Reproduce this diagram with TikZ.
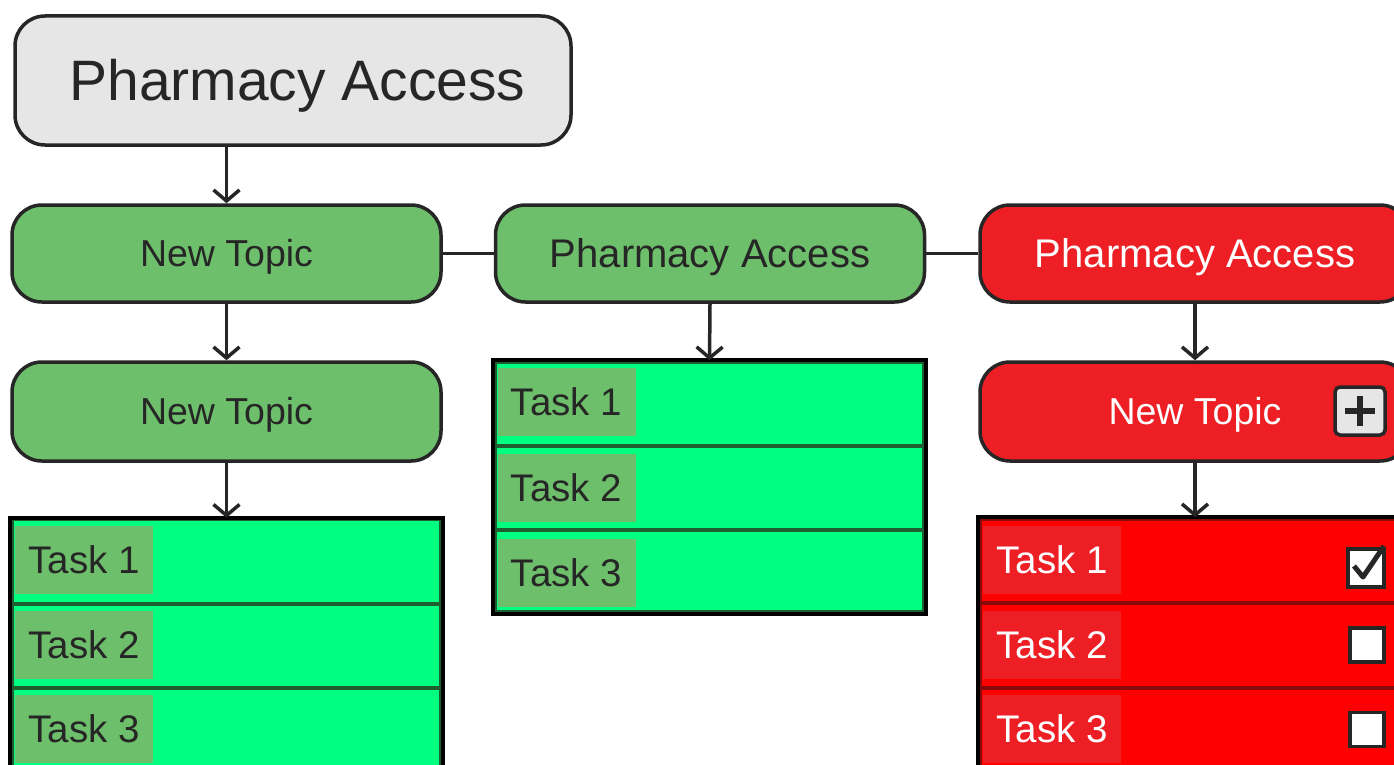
\documentclass[tikz,border=0pt]{standalone}
\usepackage{fontspec}
\setmainfont{Liberation Sans}
\usetikzlibrary{arrows.meta,calc}
\definecolor{gbox}{HTML}{6DBF6B}
\definecolor{gtab}{HTML}{00FF80}
\definecolor{gline}{HTML}{1E5E30}
\definecolor{rbox}{HTML}{ED1F24}
\definecolor{rtab}{HTML}{FF0000}
\definecolor{rline}{HTML}{8A0A0A}
\definecolor{ink}{HTML}{262626}
\definecolor{lgray}{HTML}{E6E6E6}
\tikzset{
 topic/.style={draw=ink, line width=3.5pt, rounded corners=30pt, minimum width=429pt, minimum height=97pt, inner sep=0pt, font=\fontsize{37.5}{40}\selectfont, text height=26.9pt, text depth=0pt},
 greentopic/.style={topic, fill=gbox, text=ink},
 redtopic/.style={topic, fill=rbox, text=white},
 bigfont/.style={font=\fontsize{40}{44}\selectfont, text height=28.6pt},
 taskrow/.style={rectangle, minimum width=429pt, minimum height=84pt, inner sep=0pt, line width=3.5pt},
 greenrow/.style={taskrow, fill=gtab, draw=gline},
 redrow/.style={taskrow, minimum width=430pt, fill=rtab, draw=rline},
 lab/.style={rectangle, minimum width=138pt, minimum height=68pt, inner sep=0pt, font=\fontsize{38.5}{40}\selectfont, text height=27.6pt, text depth=0pt},
 glab/.style={lab, fill=gbox, text=ink},
 rlab/.style={lab, fill=rbox, text=white},
 conn/.style={draw=ink, line width=3.5pt},
 arr/.style={conn, -{Straight Barb[length=11pt,width=26pt]}},
 frame/.style={draw=black, line width=4pt},
 cbox/.style={rectangle, fill=white, draw=ink, line width=3.5pt, minimum width=34pt, minimum height=34pt, inner sep=0pt},
}
\begin{document}
\begin{tikzpicture}[x=1pt,y=-1pt]
\clip (0,0) rectangle (1394,765);
\fill[white] (0,0) rectangle (1394,765);
% top
\node[draw=ink, line width=3.5pt, rounded corners=30pt, fill=lgray, text=ink, minimum width=556pt, minimum height=129pt, inner sep=0pt, font=\fontsize{57}{60}\selectfont, text height=40.8pt, text depth=0pt] (top) at (293,80.5) {\hspace*{9pt}Pharmacy Access};
% row 2
\node[greentopic] (lt1) at (226.5,253.5) {New Topic};
\node[greentopic, bigfont] (mt1) at (710,253.5) {Pharmacy Access};
\node[redtopic, bigfont, minimum width=430pt] (rt1) at (1195,253.5) {Pharmacy Access};
% row 3
\node[greentopic, minimum height=99pt] (lt2) at (226.5,411.5) {New Topic};
\node[redtopic, minimum height=99pt, minimum width=430pt] (rt2) at (1195,411.5) {New Topic};
\node[rectangle, rounded corners=5pt, fill=lgray, draw=ink, line width=3.5pt, minimum width=50pt, minimum height=48pt] (plus) at (1360,411) {};
\draw[ink, line width=5.5pt] ($(plus.center)+(-15,0)$) -- ($(plus.center)+(15,0)$);
\draw[ink, line width=5.5pt] ($(plus.center)+(0,-15)$) -- ($(plus.center)+(0,15)$);
% middle table
\node[greenrow] (m1) at (709.5,404) {};
\node[greenrow] (m2) at (709.5,488) {};
\node[greenrow, minimum height=82pt] (m3) at (709.5,571) {};
\node[glab] (ml1) at (566.5,402) {Task 1};
\node[glab] (ml2) at (566.5,487.5) {Task 2};
\node[glab] (ml3) at (566.5,573) {Task 3};
\draw[frame] (m1.north west) rectangle (m3.south east);
% left table
\node[greenrow] (l1) at (226.5,561.5) {};
\node[greenrow] (l2) at (226.5,646) {};
\node[greenrow] (l3) at (226.5,730) {};
\node[glab] (ll1) at (84,559.5) {Task 1};
\node[glab] (ll2) at (84,644.5) {Task 2};
\node[glab] (ll3) at (84,729) {Task 3};
\draw[frame] (l1.north west) rectangle (l3.south east);
% right table
\node[redrow] (r1) at (1195,561) {};
\node[redrow] (r2) at (1195,645.5) {};
\node[redrow] (r3) at (1195,730) {};
\node[rlab] (rl1) at (1052,559.5) {Task 1};
\node[rlab] (rl2) at (1052,644.5) {Task 2};
\node[rlab] (rl3) at (1052,729) {Task 3};
\draw[frame] (r1.north west) rectangle (r3.south east);
\node[cbox, minimum height=38pt, minimum width=36pt] (c1) at (1366,568) {};
\node[cbox] (c2) at (1367,645) {};
\node[cbox] (c3) at (1367,729.5) {};
\draw[ink, line width=5pt, line join=round] ($(c1.center)+(-12,-2)$) -- ($(c1.center)+(-3,9)$) -- ($(c1.center)+(18,-22)$);
% connectors
\draw[arr] (lt1.north |- top.south) -- (lt1.north);
\draw[conn] (lt1.east) -- (mt1.west);
\draw[conn] (mt1.east) -- (rt1.west);
\draw[arr] (lt1.south) -- (lt2.north);
\draw[arr] (mt1.south) -- (m1.north);
\draw[arr] (rt1.south) -- (rt2.north);
\draw[arr] (lt2.south) -- (l1.north);
\draw[arr] (rt2.south) -- (r1.north);
\end{tikzpicture}
\end{document}
